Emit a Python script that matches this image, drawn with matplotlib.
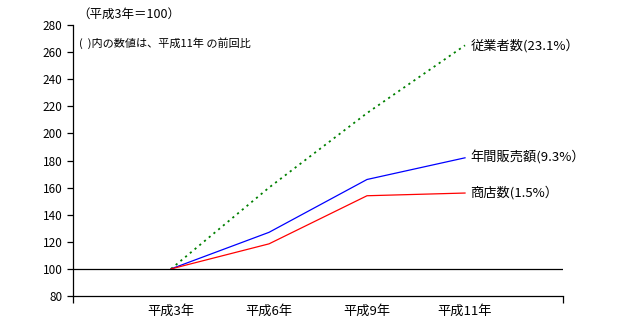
import matplotlib.pyplot as plt
import numpy as np

plt.rcParams['font.family'] = ['Noto Sans CJK JP', 'DejaVu Sans']

# データ（平成3年＝100）
years = ['平成3年', '平成6年', '平成9年', '平成11年']
employees = [100, 160, 215, 265]   # 従業者数
sales = [100, 127, 166, 182]       # 年間販売額
shops = [100, 118.5, 154, 156]     # 商店数
series_labels = ['従業者数(23.1%）', '年間販売額(9.3%）', '商店数(1.5%）']
yticks = list(range(80, 281, 20))

fig = plt.figure(figsize=(6.21, 3.25), dpi=100)
ax = fig.add_axes([0.1176, 0.0892, 0.7890, 0.8338])

x = np.arange(1, len(years) + 1)
ax.plot(x, employees, color='#008000', lw=1.3, ls=(0, (1.2, 2.2)))
ax.plot(x, sales, color='#0000ff', lw=0.9)
ax.plot(x, shops, color='#ff0000', lw=0.9)
ax.axhline(100, color='black', lw=0.9)

ax.set_xlim(0, len(years) + 1)
ax.set_ylim(80, 280)
ax.set_yticks(yticks)
ax.tick_params(axis='y', labelsize=8.5, length=4, width=0.9, direction='out')
ax.set_xticks(np.arange(0, len(years) + 2), minor=True)
ax.set_xticks(x)
ax.set_xticklabels(years, fontsize=9.5)
ax.tick_params(axis='x', which='major', length=0, pad=6)
ax.tick_params(axis='x', which='minor', length=5, width=0.9, direction='out')

for s in ['top', 'right']:
    ax.spines[s].set_visible(False)
for s in ['left', 'bottom']:
    ax.spines[s].set_linewidth(0.9)

# 右端のラベル
for vals, lab in zip([employees, sales, shops], series_labels):
    ax.annotate(lab, (x[-1], vals[-1]), xytext=(4, 0), textcoords='offset points',
                va='center', ha='left', fontsize=9.5)

fig.text(0.125, 0.955, '（平成3年＝100）', fontsize=9, va='center', ha='left')
ax.text(0.012, 0.934, '(  )内の数値は、平成11年 の前回比', transform=ax.transAxes,
        fontsize=8, va='center', ha='left')

fig.savefig('out.png', dpi=100)
